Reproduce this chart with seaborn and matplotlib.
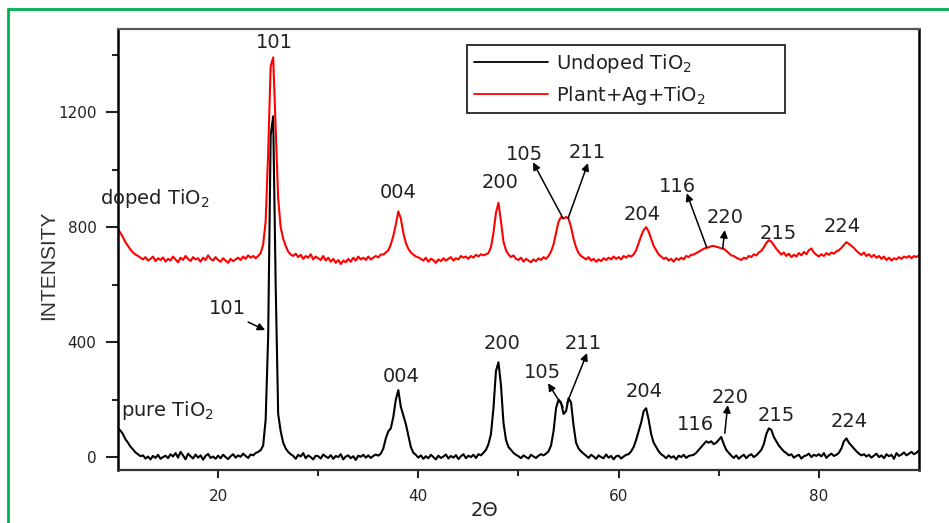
import numpy as np
import pandas as pd
import matplotlib
matplotlib.use("Agg")
import matplotlib.pyplot as plt
import seaborn as sns
from matplotlib.lines import Line2D

# XRD scans, every 0.25 deg from 10 to 90 (2 theta)
undoped = [
    100, 92, 80, 62, 50, 36, 27, 16, 10, 3, 6, -5, 2, -8, 4, -3, 8, -6, 0, 5,
    -4, 10, 2, 14, -2, 18, 6, -8, 12, 3, -5, 9, -2, 6, -9, 4, 11, -3, 2, -6,
    5, -4, 8, 0, -7, 3, 10, -2, 6, 1, 12, 4, -3, 9, 6, 14, 18, 24, 40, 130,
    420, 1120, 1186, 600, 150, 90, 50, 30, 18, 10, 4, -6, 8, 2, 14, -4, 6, 0, -8, 5,
    3, -5, 9, 2, -3, 7, -6, 4, 0, 10, -8, 2, 6, -4, 3, -10, 5, 1, 8, -2,
    6, -3, 4, 9, 5, 12, 30, 65, 90, 100, 140, 200, 233, 175, 145, 115, 75, 35, 15, 8,
    -2, 6, -6, 3, -4, 8, 0, -8, 5, -3, 2, 9, -5, 4, -2, 7, -7, 3, 10, -4,
    5, 0, 8, -3, 10, 6, 15, 25, 45, 80, 170, 300, 330, 250, 120, 60, 35, 25, 15, 8,
    3, -4, 6, 0, -5, 8, 2, -3, 5, 10, 6, 12, 20, 40, 90, 170, 200, 190, 150, 160,
    205, 190, 110, 50, 30, 20, 12, 5, -3, 8, 2, -6, 6, 0, -4, 9, -2, 4, -8, 3,
    5, -5, 2, 8, 10, 20, 35, 60, 90, 120, 160, 170, 130, 80, 50, 35, 20, 10, 4, -4,
    6, -2, 3, -8, 5, 0, 8, -3, 4, 6, 8, 15, 25, 35, 45, 55, 50, 55, 45, 50,
    60, 70, 45, 25, 15, 5, -3, 6, -6, 2, 8, -4, 5, 10, 0, 6, 15, 25, 45, 80,
    100, 95, 70, 55, 40, 30, 20, 14, 6, 10, -2, 4, 8, -5, 3, 6, 12, 0, 8, 4,
    10, 2, 14, -3, 6, 12, 4, 8, 15, 30, 55, 65, 50, 40, 30, 20, 12, 6, 10, 2,
    8, -2, 5, 12, 0, 6, -4, 10, 3, 8, -6, 14, 4, 9, 16, 6, 12, 18, 10, 15,
    24,
]
doped = [
    793, 780, 765, 748, 735, 722, 712, 705, 700, 694, 688, 696, 684, 690, 698, 682, 692, 686, 695, 680,
    690, 684, 698, 688, 678, 694, 686, 700, 690, 682, 696, 688, 692, 680, 694, 686, 702, 690, 684, 696,
    686, 680, 692, 684, 676, 690, 682, 688, 694, 686, 698, 690, 702, 694, 700, 692, 700, 710, 740, 820,
    1060, 1360, 1391, 1150, 900, 800, 760, 735, 715, 705, 700, 708, 696, 704, 690, 700, 694, 706, 688, 698,
    692, 686, 700, 684, 694, 680, 690, 676, 686, 672, 684, 678, 690, 680, 694, 684, 698, 688, 694, 686,
    698, 688, 694, 700, 695, 705, 705, 712, 720, 740, 770, 810, 855, 830, 780, 745, 725, 712, 705, 698,
    695, 690, 684, 694, 680, 690, 686, 676, 688, 682, 692, 684, 690, 696, 684, 692, 688, 700, 694, 698,
    690, 700, 694, 704, 698, 706, 702, 706, 710, 730, 780, 850, 885, 820, 750, 720, 705, 696, 702, 690,
    686, 694, 680, 690, 684, 678, 688, 682, 692, 686, 696, 690, 700, 715, 740, 780, 820, 835, 830, 836,
    830, 800, 760, 730, 710, 700, 694, 688, 696, 684, 690, 680, 688, 682, 692, 686, 694, 688, 698, 690,
    696, 688, 700, 694, 702, 698, 705, 720, 745, 770, 790, 800, 785, 760, 735, 720, 705, 698, 690, 694,
    684, 690, 680, 692, 686, 694, 688, 700, 696, 704, 705, 710, 715, 720, 725, 728, 730, 734, 735, 732,
    730, 726, 725, 718, 710, 702, 700, 694, 690, 686, 694, 690, 700, 696, 706, 702, 712, 718, 730, 745,
    755, 750, 738, 725, 715, 705, 712, 700, 708, 696, 704, 698, 710, 702, 714, 706, 720, 726, 712, 704,
    698, 706, 700, 710, 704, 712, 708, 716, 720, 728, 738, 748, 742, 735, 728, 718, 710, 704, 712, 700,
    706, 696, 704, 694, 700, 690, 698, 686, 694, 684, 692, 688, 696, 690, 698, 694, 700, 692, 700, 696,
    703,
]
two_theta = np.linspace(10, 90, len(undoped))

df = pd.DataFrame({"two_theta": two_theta, "undoped": undoped, "doped": doped})

sns.set_theme(style="ticks")
plt.rcParams["font.family"] = ["DejaVu Sans"]

fig = plt.figure(figsize=(9.49, 5.23), dpi=100)
ax = fig.add_axes([0.1243, 0.1013, 0.8441, 0.8433])

sns.lineplot(data=df, x="two_theta", y="undoped", color="black", lw=1.5,
             label="Undoped TiO$_2$", ax=ax)
sns.lineplot(data=df, x="two_theta", y="doped", color="#ff0000", lw=1.5,
             label="Plant+Ag+TiO$_2$", ax=ax)

ax.set_xlim(10, 90)
ax.set_ylim(-45, 1490)
ax.set_xticks([20, 40, 60, 80])
ax.set_xticks([30, 50, 70], minor=True)
ax.set_yticks([0, 400, 800, 1200])
ax.set_yticks([200, 600, 1000, 1400], minor=True)
ax.tick_params(axis="y", which="major", direction="out", length=8.5, width=1.5,
               labelsize=11, pad=7, colors="#222222")
ax.tick_params(axis="y", which="minor", direction="out", length=4.5, width=1.5)
ax.tick_params(axis="x", which="major", direction="out", length=6, width=1.5,
               labelsize=11, pad=8, colors="#222222")
ax.tick_params(axis="x", which="minor", direction="out", length=4, width=1.5)

for side in ["left", "right"]:
    ax.spines[side].set_linewidth(1.8)
    ax.spines[side].set_color("black")
ax.spines["bottom"].set_linewidth(1.6)
ax.spines["bottom"].set_color("#333333")
ax.spines["top"].set_linewidth(1.6)
ax.spines["top"].set_color("#555555")

ax.set_xlabel("2Θ", fontsize=14, color="#222222")
ax.xaxis.label.set_va("center")
ax.xaxis.set_label_coords(0.458, -0.091)
ax.set_ylabel("INTENSITY", fontsize=15, color="#333333",
              family=["Liberation Sans Narrow", "Liberation Sans", "DejaVu Sans"])
ax.yaxis.label.set_va("center")
ax.yaxis.set_label_coords(-0.087, 0.465)

leg = ax.legend(loc="upper left", bbox_to_anchor=(0.4357, 0.8095, 0.397, 0.1542),
                mode="expand", borderaxespad=0,
                fontsize=14, handlelength=3.8, handletextpad=0.45, frameon=True,
                fancybox=False, borderpad=0.35, labelspacing=0.45)
leg.get_frame().set_edgecolor("black")
leg.get_frame().set_linewidth(1.4)
for t in leg.get_texts():
    t.set_color("#222222")
for h in leg.get_lines():
    h.set_linewidth(1.3)

# peak labels (Miller indices)
lab_kw = dict(fontsize=14, color="#222222", ha="center", va="center")
red_labels = [("101", 25.6, 1443), ("004", 38.0, 922), ("200", 48.15, 957),
              ("105", 50.55, 1054), ("211", 56.9, 1061), ("204", 62.3, 845),
              ("116", 65.9, 943), ("220", 70.6, 835), ("215", 75.9, 779),
              ("224", 82.3, 803)]
black_labels = [("101", 20.9, 518), ("004", 38.3, 282), ("200", 48.35, 397),
                ("105", 52.35, 296), ("211", 56.5, 397), ("204", 62.5, 230),
                ("116", 67.7, 115), ("220", 71.1, 209), ("215", 75.7, 146),
                ("224", 83.0, 125)]
for txt, x, y in red_labels + black_labels:
    ax.text(x, y, txt, **lab_kw)

ax.text(8.2, 901, "doped TiO$_2$", fontsize=14, color="#222222", ha="left", va="center")
ax.text(10.3, 163, "pure TiO$_2$", fontsize=14, color="#222222", ha="left", va="center")

# arrows: (tail, head)
arrows = [((54.45, 831), (51.45, 1026)), ((54.95, 831), (56.94, 1023)),
          ((68.8, 730), (66.8, 918)), ((70.4, 727), (70.6, 790)),
          ((23.0, 470), (24.7, 442)), ((54.45, 174), (52.95, 257)),
          ((54.85, 188), (56.85, 362)), ((70.6, 83), (70.9, 181))]
for tail, head in arrows:
    ax.annotate("", xy=head, xytext=tail,
                arrowprops=dict(arrowstyle="-|>", color="black", lw=1.1,
                                mutation_scale=11, shrinkA=0, shrinkB=0))

# green frame around the figure
fig.add_artist(Line2D([8 / 949, 8 / 949], [0, 1 - 9 / 523], color="#00b050", lw=2,
                      transform=fig.transFigure))
fig.add_artist(Line2D([8 / 949, 1], [1 - 9 / 523, 1 - 9 / 523], color="#00b050", lw=2,
                      transform=fig.transFigure))

fig.savefig("out.png", dpi=100)
